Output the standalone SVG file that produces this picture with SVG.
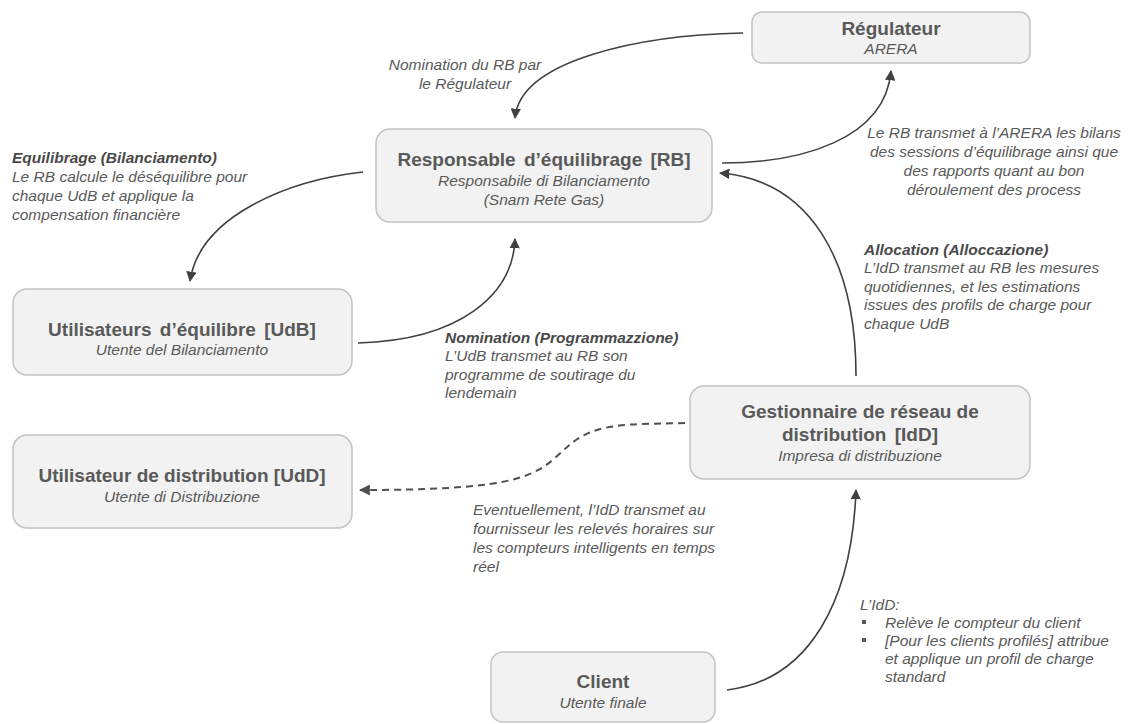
<svg xmlns="http://www.w3.org/2000/svg" width="1129" height="724" viewBox="0 0 1129 724">
  <style>
    .box { fill: #f2f2f2; stroke: #c3c3c3; stroke-width: 1.5; }
    .title { font-family: "Liberation Sans", Arial, sans-serif; font-size: 19px; font-weight: bold; fill: #595959; text-anchor: middle; }
    .sub { font-family: "Liberation Sans", Arial, sans-serif; font-size: 15.5px; font-style: italic; fill: #595959; text-anchor: middle; }
    .lbl { font-family: "Liberation Sans", Arial, sans-serif; font-size: 15.5px; font-style: italic; fill: #595959; }
    .lbl .h { font-weight: bold; fill: #4a4a4a; }
    .mid { text-anchor: middle; }
    .wire { fill: none; stroke: #404040; stroke-width: 1.6; }
    .dash { fill: none; stroke: #505050; stroke-width: 2; stroke-dasharray: 7 5; }
  </style>
  <defs>
    <marker id="head" viewBox="0 0 10 10" refX="9" refY="5" markerWidth="6.5" markerHeight="6.5" markerUnits="strokeWidth" orient="auto">
      <path d="M0,0 L10,5 L0,10 z" fill="#404040"/>
    </marker>
    <marker id="headDash" viewBox="0 0 10 10" refX="9" refY="5" markerWidth="5.5" markerHeight="5.5" markerUnits="strokeWidth" orient="auto">
      <path d="M0,0 L10,5 L0,10 z" fill="#505050"/>
    </marker>
  </defs>

  <!-- connectors -->
  <g id="connectors">
    <path class="wire" d="M743,33 C640,35 520,60 515,118" marker-end="url(#head)"/>
    <path class="wire" d="M722,163 C800,163 885,140 891,71" marker-end="url(#head)"/>
    <path class="wire" d="M856,376 C856,260 810,180 720,173" marker-end="url(#head)"/>
    <path class="wire" d="M363,172 C290,180 200,215 190,281" marker-end="url(#head)"/>
    <path class="wire" d="M358,343 C460,340 513,295 515,239" marker-end="url(#head)"/>
    <path class="wire" d="M727,690 C810,680 852,600 856,490" marker-end="url(#head)"/>
    <path class="dash" d="M685,423 L640,424 C585,426 575,440 555,458 C530,480 500,490 360,490" marker-end="url(#headDash)"/>
  </g>

  <!-- connector labels -->
  <g id="labels">
    <text class="lbl mid" x="465" y="70">Nomination du RB par</text>
    <text class="lbl mid" x="465" y="89">le Régulateur</text>

    <text class="lbl" x="12" y="163"><tspan class="h">Equilibrage  (Bilanciamento)</tspan></text>
    <text class="lbl" x="12" y="182">Le RB  calcule le déséquilibre pour</text>
    <text class="lbl" x="12" y="201">chaque UdB et applique la</text>
    <text class="lbl" x="12" y="220">compensation financière</text>

    <text class="lbl mid" x="994" y="138">Le RB transmet à l’ARERA les bilans</text>
    <text class="lbl mid" x="994" y="157">des sessions d’équilibrage ainsi que</text>
    <text class="lbl mid" x="994" y="176">des rapports quant au bon</text>
    <text class="lbl mid" x="994" y="195">déroulement des process</text>

    <text class="lbl" x="864" y="255"><tspan class="h">Allocation  (Alloccazione)</tspan></text>
    <text class="lbl" x="864" y="273">L’IdD  transmet au RB les mesures</text>
    <text class="lbl" x="864" y="292">quotidiennes, et les estimations</text>
    <text class="lbl" x="864" y="310">issues des profils de charge pour</text>
    <text class="lbl" x="864" y="329">chaque UdB</text>

    <text class="lbl" x="445" y="343"><tspan class="h">Nomination (Programmazzione)</tspan></text>
    <text class="lbl" x="445" y="361">L’UdB transmet au RB son</text>
    <text class="lbl" x="445" y="380">programme de soutirage du</text>
    <text class="lbl" x="445" y="398">lendemain</text>

    <text class="lbl" x="473" y="515">Eventuellement, l’IdD  transmet au</text>
    <text class="lbl" x="473" y="534">fournisseur les relevés horaires sur</text>
    <text class="lbl" x="473" y="553">les compteurs intelligents en temps</text>
    <text class="lbl" x="473" y="572">réel</text>

    <text class="lbl" x="860" y="610">L’IdD:</text>
    <rect x="862" y="620" width="4" height="4" fill="#595959"/>
    <text class="lbl" x="885" y="628">Relève le compteur du client</text>
    <rect x="862" y="638" width="4" height="4" fill="#595959"/>
    <text class="lbl" x="885" y="646">[Pour les clients profilés] attribue</text>
    <text class="lbl" x="885" y="664">et applique un profil de charge</text>
    <text class="lbl" x="885" y="682">standard</text>
  </g>

  <!-- nodes -->
  <g id="regulateur">
    <rect class="box" x="752" y="12" width="278" height="51" rx="10"/>
    <text class="title" x="891" y="35">Régulateur</text>
    <text class="sub" x="891" y="54">ARERA</text>
  </g>

  <g id="rb">
    <rect class="box" x="376" y="129" width="336" height="93" rx="14"/>
    <text class="title" x="544" y="166" word-spacing="3">Responsable d’équilibrage [RB]</text>
    <text class="sub" x="544" y="186">Responsabile di Bilanciamento</text>
    <text class="sub" x="544" y="205">(Snam Rete Gas)</text>
  </g>

  <g id="udb">
    <rect class="box" x="13" y="289" width="339" height="86" rx="14"/>
    <text class="title" x="182" y="336" word-spacing="3">Utilisateurs d’équilibre [UdB]</text>
    <text class="sub" x="182" y="355">Utente del Bilanciamento</text>
  </g>

  <g id="udd">
    <rect class="box" x="13" y="435" width="339" height="93" rx="14"/>
    <text class="title" x="182" y="482">Utilisateur de distribution [UdD]</text>
    <text class="sub" x="182" y="502">Utente di Distribuzione</text>
  </g>

  <g id="idd">
    <rect class="box" x="690" y="386" width="340" height="93" rx="14"/>
    <text class="title" x="860" y="418">Gestionnaire de réseau de</text>
    <text class="title" x="860" y="441" word-spacing="3">distribution [IdD]</text>
    <text class="sub" x="860" y="461">Impresa di distribuzione</text>
  </g>

  <g id="client">
    <rect class="box" x="491" y="652" width="224" height="70" rx="12"/>
    <text class="title" x="603" y="688">Client</text>
    <text class="sub" x="603" y="708">Utente finale</text>
  </g>
</svg>
